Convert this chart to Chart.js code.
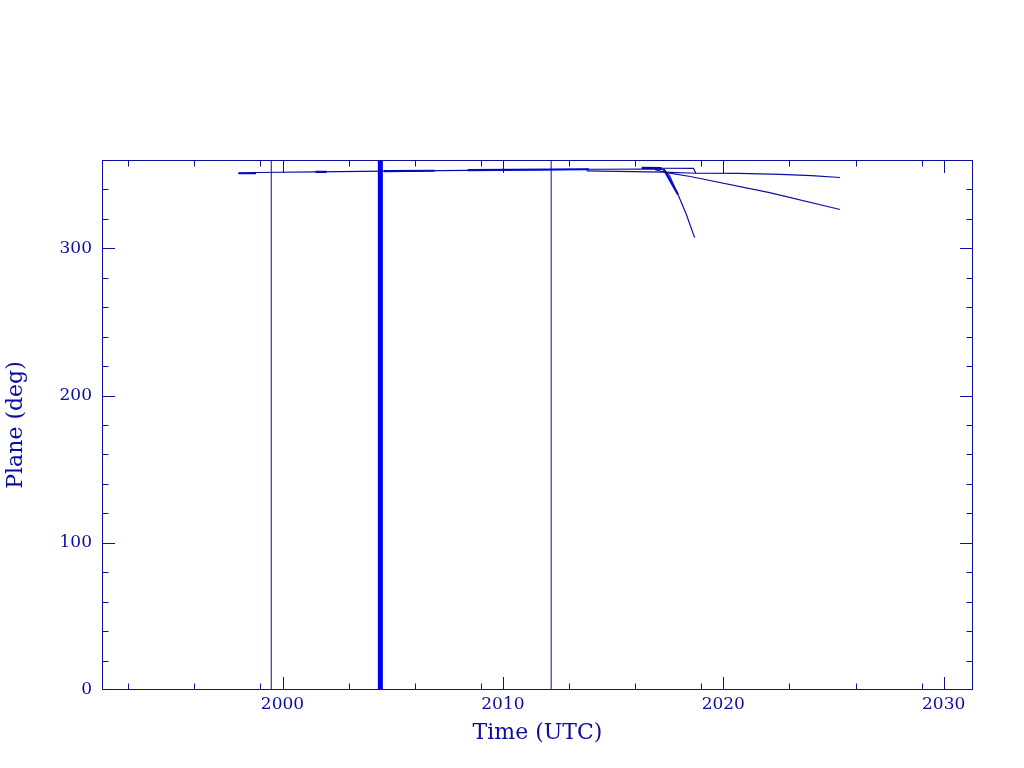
<!DOCTYPE html>
<html>
<head>
<meta charset="utf-8">
<script src="https://cdn.jsdelivr.net/npm/chart.js@4.4.0/dist/chart.umd.min.js"></script>
<style>
  body { margin: 0; background: #fff; }
  #wrap { width: 1024px; height: 768px; }
</style>
</head>
<body>
<div id="wrap"><canvas id="planeChart" width="1024" height="768"></canvas></div>
<script>
const navy = "#0c0ca0";
const bright = "#0000ee";

// axis ticks (years / degrees)
const xMajor = [2000, 2010, 2020, 2030];
const xMinor = [1993, 1996, 1999, 2003, 2006, 2009, 2013, 2016, 2019, 2023, 2026, 2029];
const yMajor = [0, 100, 200, 300];
const yMinor = [20, 40, 60, 80, 120, 140, 160, 180, 220, 240, 260, 280, 320, 340];

// main track, then the steep drop in 2018
const mainT = [1998.0, 1998.8, 2001.5, 2004.6, 2008.4, 2013.9, 2016.5, 2017.3, 2017.56, 2017.94, 2018.32, 2018.7];
const mainV = [351.0, 351.5, 351.9, 352.4, 353.0, 353.7, 353.9, 353.6, 349.2, 336.7, 323.1, 307.3];

// flat track ending 2025
const flatT = [2013.8, 2017.3, 2018.8, 2020.7, 2022.6, 2024.0, 2025.3];
const flatV = [352.6, 351.8, 351.0, 350.9, 350.2, 349.4, 348.1];

// short upper track that steps down onto the flat one
const upperT = [2016.3, 2017.2, 2018.65, 2018.75];
const upperV = [354.5, 354.4, 354.3, 351.2];

// declining track ending 2025
const declT = [2016.9, 2017.5, 2018.5, 2022.1, 2025.3];
const declV = [353.4, 351.3, 348.8, 337.8, 326.4];

// overlapping stretches drawn heavier (null = gap)
const heavyT = [1998.0, 1998.8, 1998.8, 2001.5, 2002.0, 2002.0, 2004.6, 2006.9, 2006.9, 2008.4, 2013.9, 2013.9, 2016.3, 2017.2, 2017.2, 2017.3, 2017.94];
const heavyV = [351.0, 351.0, null, 351.9, 352.0, null, 352.5, 352.7, null, 353.1, 353.7, null, 354.6, 354.5, null, 353.6, 336.7];

// vertical event markers
const markT = [1999.49, 2012.19];
const bigMarkT = [2004.44];
const markV = [0, 360];

const pts = (t, v) => t.map((tt, i) => ({ x: tt, y: v[i] }));
const vline = (t) => markV.map((v) => ({ x: t, y: v }));

const lineSet = (data, color, width) => ({
  data: data,
  borderColor: color,
  borderWidth: width,
  pointRadius: 0,
  showLine: true,
  fill: false,
  tension: 0,
  spanGaps: false,
});

const datasets = [
  ...markT.map((t) => lineSet(vline(t), navy, 1)),
  ...bigMarkT.map((t) => lineSet(vline(t), bright, 5)),
  lineSet(pts(mainT, mainV), navy, 1.2),
  lineSet(pts(flatT, flatV), navy, 1.2),
  lineSet(pts(upperT, upperV), navy, 1.2),
  lineSet(pts(declT, declV), navy, 1.2),
  lineSet(pts(heavyT, heavyV), bright, 2.2),
];

const frameTicks = {
  id: "frameTicks",
  afterDatasetsDraw(chart) {
    const { ctx, chartArea: a, scales } = chart;
    const x = scales.x;
    const y = scales.y;
    ctx.save();
    ctx.strokeStyle = navy;
    ctx.lineWidth = 1;
    ctx.strokeRect(a.left + 0.5, a.top + 0.5, a.width - 1, a.height - 1);
    ctx.beginPath();
    const xt = (v, len) => {
      let px = Math.round(x.getPixelForValue(v)) + 0.5;
      px = Math.min(Math.max(px, a.left + 0.5), a.right - 0.5);
      ctx.moveTo(px, a.bottom);
      ctx.lineTo(px, a.bottom - len);
      ctx.moveTo(px, a.top);
      ctx.lineTo(px, a.top + len);
    };
    const yt = (v, len) => {
      let py = Math.round(y.getPixelForValue(v)) + 0.5;
      py = Math.min(Math.max(py, a.top + 0.5), a.bottom - 0.5);
      ctx.moveTo(a.left, py);
      ctx.lineTo(a.left + len, py);
      ctx.moveTo(a.right, py);
      ctx.lineTo(a.right - len, py);
    };
    xMajor.forEach((v) => xt(v, 13));
    xMinor.forEach((v) => xt(v, 6.5));
    yMajor.forEach((v) => yt(v, 13));
    yMinor.forEach((v) => yt(v, 6.5));
    ctx.stroke();
    ctx.restore();
  },
};

const ctx = document.getElementById("planeChart").getContext("2d");
new Chart(ctx, {
  type: "scatter",
  data: { datasets: datasets },
  options: {
    responsive: false,
    animation: false,
    devicePixelRatio: 1,
    layout: { padding: { top: 160, right: 51, left: 0, bottom: 0 } },
    scales: {
      x: {
        type: "linear",
        min: 1991.81,
        max: 2031.33,
        afterBuildTicks: (scale) => {
          scale.ticks = xMajor.map((v) => ({ value: v }));
        },
        afterFit: (scale) => {
          scale.height = 78;
        },
        grid: { display: false, drawTicks: false },
        border: { display: false },
        ticks: {
          color: navy,
          padding: 4,
          maxRotation: 0,
          font: { family: "DejaVu Serif", size: 17 },
          callback: (v) => String(v),
        },
        title: {
          display: true,
          text: "Time (UTC)",
          color: navy,
          font: { family: "DejaVu Serif", size: 22 },
          padding: { top: 0, bottom: 22 },
        },
      },
      y: {
        type: "linear",
        min: 0,
        max: 360,
        afterBuildTicks: (scale) => {
          scale.ticks = yMajor.map((v) => ({ value: v }));
        },
        afterFit: (scale) => {
          scale.width = 102;
        },
        grid: { display: false, drawTicks: false },
        border: { display: false },
        ticks: {
          color: navy,
          padding: 10,
          font: { family: "DejaVu Serif", size: 17 },
          callback: (v) => String(v),
        },
        title: {
          display: true,
          text: "Plane (deg)",
          color: navy,
          font: { family: "DejaVu Serif", size: 22 },
          padding: { top: 3, bottom: 0 },
        },
      },
    },
    plugins: {
      legend: { display: false },
      tooltip: { enabled: false },
    },
  },
  plugins: [frameTicks],
});
</script>
</body>
</html>
